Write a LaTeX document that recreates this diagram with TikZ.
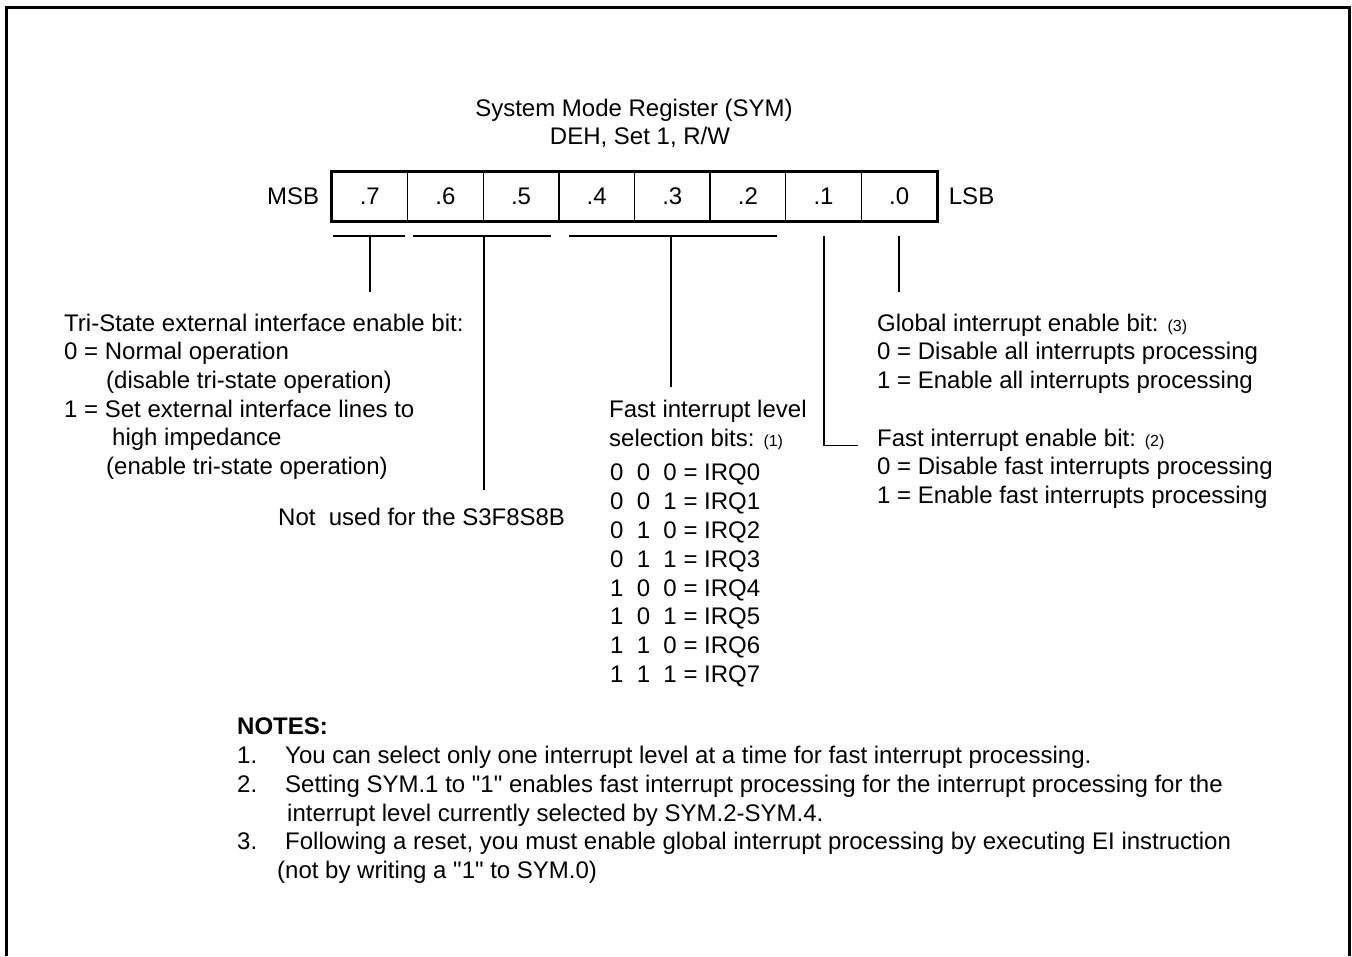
\documentclass[tikz,border=0pt]{standalone}
\usepackage{fontspec}
\setmainfont{Liberation Sans}
\newfontfamily\qf{Liberation Sans}
\newcommand{\dq}{{\qf\symbol{34}}}
\usetikzlibrary{calc}
\begin{document}
\begin{tikzpicture}[x=1pt,y=-1pt,
  font=\fontsize{24}{28.8}\selectfont,
  txt/.style={inner sep=0pt, anchor=base west},
  ctxt/.style={inner sep=0pt, anchor=base},
  cell/.style={draw, line width=1.4pt, minimum width=75.625pt, minimum height=49pt, inner sep=0pt, anchor=center},
  wire/.style={line width=1.6pt}]
\useasboundingbox (0,0) rectangle (1352,956);
\draw[line width=3pt] (6.5,956) -- (6.5,7) -- (1349,7) -- (1349,956);

% title
\node[ctxt] (title) at (634,116.6) {System Mode Register (SYM)};
\node[ctxt] (addr) at (640,144.6) {DEH, Set 1, R/W};

% register cells
\foreach \b [count=\i from 0] in {7,6,5,4,3,2,1,0}
  \node[cell] (c\b) at (369.8+75.625*\i,196.5) {.\b};
\draw[line width=2pt] (c7.north west) rectangle (c0.south east);
\node[inner sep=0pt, anchor=east] (msb) at ($(c7.west)+(-12,0)$) {MSB};
\node[inner sep=0pt, anchor=west] (lsb) at ($(c0.east)+(11,0)$) {LSB};

% brace lines and leaders
\coordinate (b7l) at (333,236); \coordinate (b7r) at (405,236);
\coordinate (b7m) at (370,236); \coordinate (b7e) at (370,292);
\coordinate (b65l) at (413,236); \coordinate (b65r) at (551,236);
\coordinate (b65m) at (484,236); \coordinate (b65e) at (484,490);
\coordinate (b42l) at (569,236); \coordinate (b42r) at (777,236);
\coordinate (b42m) at (671,236); \coordinate (b42e) at (671,387);
\coordinate (b1t) at (824,236); \coordinate (b1c) at (824,445.5); \coordinate (b1e) at (858,445.5);
\coordinate (b0t) at (899,236); \coordinate (b0e) at (899,292);
\draw[wire] (b7l) -- (b7r);
\draw[wire] (b7m) -- (b7e);
\draw[wire] (b65l) -- (b65r);
\draw[wire] (b65m) -- (b65e);
\draw[wire] (b42l) -- (b42r);
\draw[wire] (b42m) -- (b42e);
\draw[wire] (b1t) -- (b1c) -- (b1e);
\draw[wire] (b0t) -- (b0e);

% bit 7 description
\node[txt] (t1) at (64,331) {Tri-State external interface enable bit:};
\node[txt] (t2) at (64,359.7) {0 = Normal operation};
\node[txt] (t3) at (106,388.4) {(disable tri-state operation)};
\node[txt] (t4) at (64,417.1) {1 = Set external interface lines to};
\node[txt] (t5) at (112,445.8) {high impedance};
\node[txt] (t6) at (106,474.5) {(enable tri-state operation)};

% bits 6-5
\node[txt] (nu) at (278,525.6) {Not\ \ used for the S3F8S8B};

% bits 4-2
\node[txt] (f1) at (609,417.6) {Fast interrupt level};
\node[txt] (f2) at (609,446.3) {selection bits: {\fontsize{16}{19}\selectfont(1)}};
\foreach \a/\bb/\c [count=\k from 0] in {0/0/0,0/0/1,0/1/0,0/1/1,1/0/0,1/0/1,1/1/0,1/1/1}
  \node[txt] (irq\k) at (610,480.6+28.85*\k) {\a\hspace{13.3pt}\bb\hspace{13.3pt}\c\ = IRQ\k};

% bit 0
\node[txt] (g1) at (877,331) {Global interrupt enable bit: {\fontsize{16}{19}\selectfont(3)}};
\node[txt] (g2) at (877,359.7) {0 = Disable all interrupts processing};
\node[txt] (g3) at (877,388.4) {1 = Enable all interrupts processing};

% bit 1
\node[txt] (e1) at (877,446) {Fast interrupt enable bit: {\fontsize{16}{19}\selectfont(2)}};
\node[txt] (e2) at (877,474.7) {0 = Disable fast interrupts processing};
\node[txt] (e3) at (877,503.4) {1 = Enable fast interrupts processing};

% notes
\node[txt, font=\fontsize{24}{28.8}\selectfont\bfseries] (notes) at (237,734.6) {NOTES:};
\node[txt] (n1) at (237,763.6) {1.};
\node[txt] (n1t) at (285,763.6) {You can select only one interrupt level at a time for fast interrupt processing.};
\node[txt] (n2) at (237,792.3) {2.};
\node[txt] (n2t) at (285,792.3) {Setting SYM.1 to \dq1\dq{} enables fast interrupt processing for the interrupt processing for the};
\node[txt] (n2u) at (287,821) {interrupt level currently selected by SYM.2-SYM.4.};
\node[txt] (n3) at (237,849.7) {3.};
\node[txt] (n3t) at (285,849.7) {Following a reset, you must enable global interrupt processing by executing EI instruction};
\node[txt] (n3u) at (277,878.4) {(not by writing a \dq1\dq{} to SYM.0)};
\end{tikzpicture}
\end{document}
